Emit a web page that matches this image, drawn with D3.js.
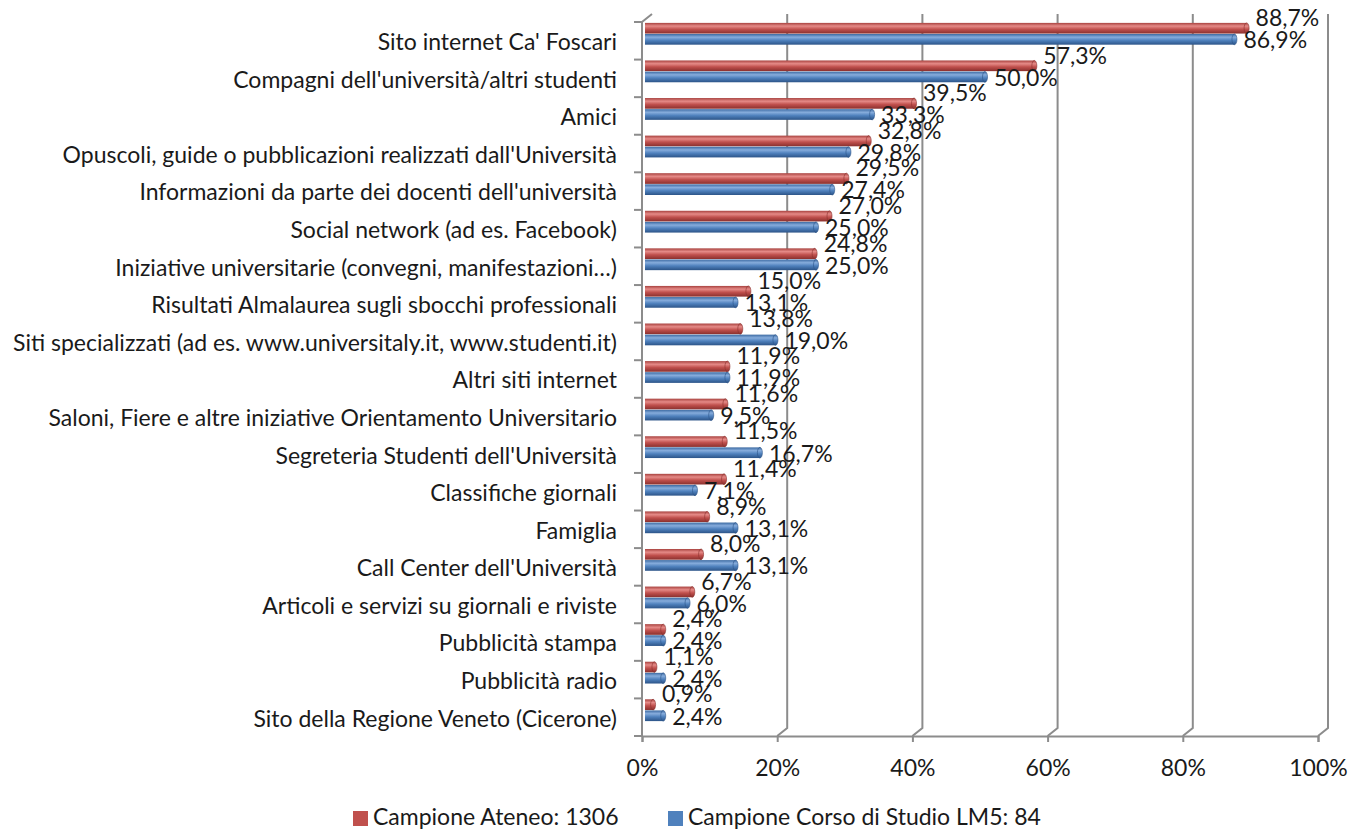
<!DOCTYPE html>
<html lang="it">
<head>
  <meta charset="UTF-8">
  <title>Fonti di informazione</title>
  <script src="https://d3js.org/d3.v7.min.js"></script>
  <style>
    body { margin: 0; background: #fff; }
    svg { display: block; }
    .lbl { font-family: Lato, 'Open Sans', sans-serif; font-size: 23px; fill: #1a1a1a; }
  </style>
</head>
<body>
  <div id="chart"></div>
  <script>
    const categories = [
      "Sito internet Ca' Foscari",
      "Compagni dell'università/altri studenti",
      "Amici",
      "Opuscoli, guide o pubblicazioni realizzati dall'Università",
      "Informazioni da parte dei docenti dell'università",
      "Social network (ad es. Facebook)",
      "Iniziative universitarie (convegni, manifestazioni…)",
      "Risultati Almalaurea sugli sbocchi professionali",
      "Siti specializzati (ad es. www.universitaly.it, www.studenti.it)",
      "Altri siti internet",
      "Saloni, Fiere e altre iniziative Orientamento Universitario",
      "Segreteria Studenti dell'Università",
      "Classifiche giornali",
      "Famiglia",
      "Call Center dell'Università",
      "Articoli e servizi su giornali e riviste",
      "Pubblicità stampa",
      "Pubblicità radio",
      "Sito della Regione Veneto (Cicerone)"
    ];
    const ateneo = [88.7, 57.3, 39.5, 32.8, 29.5, 27.0, 24.8, 15.0, 13.8, 11.9, 11.6, 11.5, 11.4, 8.9, 8.0, 6.7, 2.4, 1.1, 0.9];
    const corso  = [86.9, 50.0, 33.3, 29.8, 27.4, 25.0, 25.0, 13.1, 19.0, 11.9, 9.5, 16.7, 7.1, 13.1, 13.1, 6.0, 2.4, 2.4, 2.4];
    const seriesNames = ["Campione Ateneo: 1306", "Campione Corso di Studio LM5: 84"];
    const xTicks = [0, 20, 40, 60, 80, 100];

    const W = 1348, H = 834;
    const depthX = 10, depthY = -8;   // 3D back-wall offset
    const colors = [
      { key: "red",  stops: ["#a8423f", "#e58a87", "#c0504d", "#8a302e"], solid: "#c0504d" },
      { key: "blue", stops: ["#3c6aa2", "#86acdc", "#4f81bd", "#2c5488"], solid: "#4f81bd" }
    ];

    const svg = d3.select("#chart").append("svg").attr("width", W).attr("height", H);

    const defs = svg.append("defs");
    colors.forEach(c => {
      const g = defs.append("linearGradient").attr("id", "grad-" + c.key)
        .attr("x1", 0).attr("y1", 0).attr("x2", 0).attr("y2", 1);
      [0, 0.3, 0.6, 1].forEach((o, i) => g.append("stop").attr("offset", o).attr("stop-color", c.stops[i]));
    });

    const x = d3.scaleLinear().domain([0, 100]).range([642, 1318]);
    const y = d3.scaleBand().domain(categories).range([22, 736]);
    const bw = y.bandwidth();
    const ys = d3.scaleBand().domain(seriesNames).range([bw * 0.13, bw * 0.71]).paddingInner(0.04);

    const grid = "#8c8c8c";
    const floorY = y.range()[1];
    const topY = y.range()[0];

    // back wall gridlines with floor hooks
    svg.append("g").selectAll("path")
      .data(xTicks.filter(d => d > 0))
      .join("path")
      .attr("d", d => `M${x(d) + depthX},${topY + depthY} V${floorY + depthY} L${x(d)},${floorY}`)
      .attr("fill", "none").attr("stroke", grid).attr("stroke-width", 2);

    // left wall
    svg.append("path")
      .attr("d", `M${x(0) + depthX},${topY + depthY} L${x(0)},${topY} V${floorY}`)
      .attr("fill", "none").attr("stroke", grid).attr("stroke-width", 2);

    // category boundary ticks
    svg.append("g").selectAll("line")
      .data(categories.map(c => y(c)).concat([floorY]))
      .join("line")
      .attr("x1", x(0) - 8).attr("x2", x(0))
      .attr("y1", d => d).attr("y2", d => d)
      .attr("stroke", grid).attr("stroke-width", 2);

    // bottom axis
    const xAxis = svg.append("g").attr("transform", `translate(0,${floorY})`)
      .call(d3.axisBottom(x).tickValues(xTicks).tickSize(6).tickPadding(18).tickFormat(d => d + "%"));
    xAxis.attr("font-family", null).attr("font-size", null);
    xAxis.select(".domain").attr("stroke", grid).attr("stroke-width", 2);
    xAxis.selectAll(".tick line").attr("stroke", grid).attr("stroke-width", 2);
    xAxis.selectAll("text").attr("class", "lbl");

    // category labels
    const yAxis = svg.append("g").attr("transform", `translate(${x(0)},2)`)
      .call(d3.axisLeft(y).tickSize(0).tickPadding(25));
    yAxis.attr("font-family", null).attr("font-size", null);
    yAxis.select(".domain").remove();
    yAxis.selectAll("text").attr("class", "lbl");

    // bars as cylinders at mid depth
    const series = [ateneo, corso];
    const midX = depthX / 2, midY = depthY / 2;
    const bars = svg.append("g");
    series.forEach((vals, si) => {
      const c = colors[si];
      const name = seriesNames[si];
      const h = ys.bandwidth();
      const g = bars.append("g");
      const rows = categories.map((cat, i) => ({ cat, v: vals[i] }));
      g.selectAll("rect").data(rows).join("rect")
        .attr("x", x(0) + 3)
        .attr("y", d => y(d.cat) + ys(name) + midY)
        .attr("width", d => Math.max(0, x(d.v) + midX - x(0) - 3))
        .attr("height", h)
        .attr("fill", `url(#grad-${c.key})`);
      g.selectAll("ellipse").data(rows).join("ellipse")
        .attr("cx", d => x(d.v) + midX)
        .attr("cy", d => y(d.cat) + ys(name) + midY + h / 2)
        .attr("rx", 2.5).attr("ry", h / 2)
        .attr("fill", `url(#grad-${c.key})`)
        .attr("stroke", c.stops[3]).attr("stroke-width", 0.6);
      g.selectAll("text").data(rows).join("text")
        .attr("class", "lbl")
        .attr("x", d => x(d.v) + midX + 9)
        .attr("y", d => y(d.cat) + ys(name) + midY + h / 2 + (si === 0 ? -8 : 3))
        .attr("dominant-baseline", "middle")
        .text(d => d3.format(".1f")(d.v).replace(".", ",") + "%");
    });

    // legend
    const legend = svg.append("g").attr("transform", "translate(353,811)");
    const legX = [0, 315];
    seriesNames.forEach((n, i) => {
      const lg = legend.append("g").attr("transform", `translate(${legX[i]},0)`);
      lg.append("rect").attr("width", 15).attr("height", 15).attr("fill", colors[i].solid);
      lg.append("text").attr("class", "lbl").attr("x", 20).attr("y", 8)
        .attr("dominant-baseline", "middle").text(n);
    });
  </script>
</body>
</html>
